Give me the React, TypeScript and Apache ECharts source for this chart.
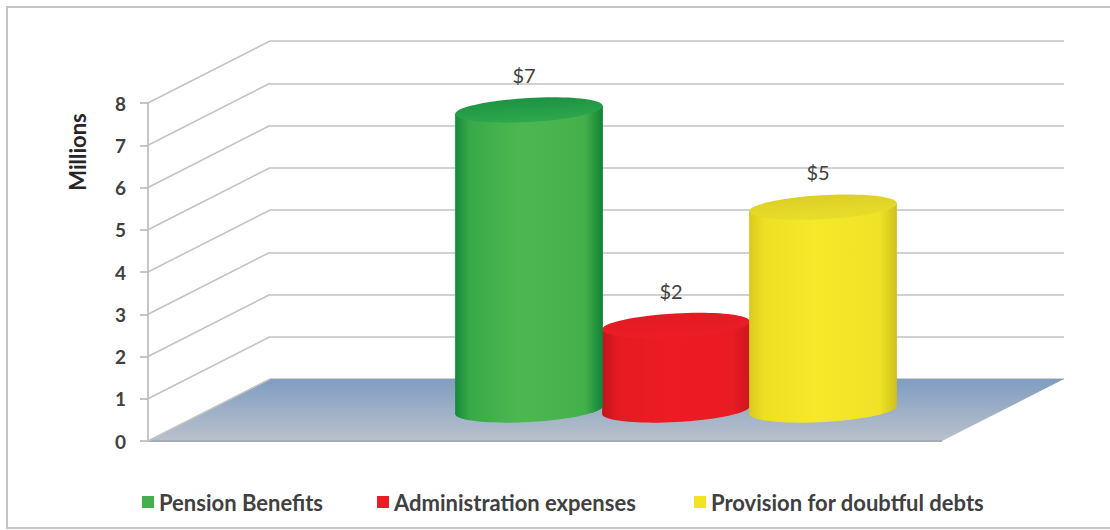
import React, { useEffect, useRef } from 'react';
import * as echarts from 'echarts';

// ---- data ----
const categories = ['Expenses'];
const seriesNames = ['Pension Benefits', 'Administration expenses', 'Provision for doubtful debts'];
const pensionBenefits = [7.1];
const administrationExpenses = [2.0];
const provisionDoubtfulDebts = [4.8];
const yTicks = [0, 1, 2, 3, 4, 5, 6, 7, 8];
const yMin = 0;
const yMax = 8;
const yInterval = 1;

// ---- layout / style constants ----
const FONT = 'Lato, "Liberation Sans", sans-serif';
const DX = 122; // depth projection
const DY = -62;
const RX = 74;
const RY = 12;
const TILT = 0.055;
const SHIFT_F = 70 / 794;
const STEP_F = 147 / 794;
const GRID_COLOR = '#c2c2c2';

const palettes = [
  { e1: '#17893b', l1: '#38aa49', mid: '#4db850', l2: '#44b04b', e2: '#0f8236', t1: '#1c9343', t2: '#2ea84e', legend: '#45b04b' },
  { e1: '#c0141c', l1: '#e41a22', mid: '#ed1c24', l2: '#ea1b23', e2: '#cc161e', t1: '#e11b24', t2: '#ed1d26', legend: '#ec1c24' },
  { e1: '#d8c91c', l1: '#ede024', mid: '#f5e92a', l2: '#f0e327', e2: '#cfc01a', t1: '#ddd026', t2: '#e9dd2a', legend: '#f2e41f' },
];

function bodyGradient(p: any) {
  return new echarts.graphic.LinearGradient(0, 0, 1, 0, [
    { offset: 0, color: p.e1 },
    { offset: 0.1, color: p.l1 },
    { offset: 0.45, color: p.mid },
    { offset: 0.88, color: p.l2 },
    { offset: 1, color: p.e2 },
  ]);
}

function cylinderRenderer(idx: number) {
  const p = palettes[idx];
  return (params: any, api: any) => {
    const cat = api.value(0);
    const v = api.value(1);
    const base = api.coord([cat, 0]);
    const top = api.coord([cat, v]);
    const bw = api.size([1, 0])[0];
    const cx = base[0] + bw * SHIFT_F + (idx - 1) * bw * STEP_F + DX / 2;
    const yb = base[1] + DY / 2;
    const yt = top[1] + DY / 2;
    const c = Math.cos(TILT) * RX;
    const s = Math.sin(TILT) * RX;
    const grad = bodyGradient(p);
    return {
      type: 'group',
      children: [
        {
          type: 'ellipse',
          x: cx,
          y: yb,
          rotation: TILT,
          shape: { cx: 0, cy: 0, rx: RX, ry: RY },
          style: { fill: grad },
        },
        {
          type: 'polygon',
          shape: {
            points: [
              [cx - c, yt + s],
              [cx + c, yt - s],
              [cx + c, yb - s],
              [cx - c, yb + s],
            ],
          },
          style: { fill: grad },
        },
        {
          type: 'ellipse',
          x: cx,
          y: yt,
          rotation: TILT,
          shape: { cx: 0, cy: 0, rx: RX, ry: RY },
          style: {
            fill: new echarts.graphic.LinearGradient(0, 0, 0, 1, [
              { offset: 0, color: p.t1 },
              { offset: 1, color: p.t2 },
            ]),
          },
        },
        {
          type: 'text',
          x: cx - 5,
          y: yt - 35,
          style: {
            text: '$' + Math.round(v),
            fontSize: 20,
            fontFamily: FONT,
            fill: '#404040',
            align: 'center',
            verticalAlign: 'middle',
          },
        },
      ],
    };
  };
}

function frameRenderer(params: any, api: any) {
  const v = api.value(1);
  const pt = api.coord([0, v]);
  const cs = params.coordSys;
  const x0 = cs.x;
  const w = cs.width;
  const y = pt[1];
  const children: any[] = [];
  if (v === yMin) {
    children.push({
      type: 'polygon',
      shape: {
        points: [
          [x0, y],
          [x0 + DX, y + DY],
          [x0 + w + DX, y + DY],
          [x0 + w, y],
        ],
      },
      style: {
        fill: new echarts.graphic.LinearGradient(0, 0, 0, 1, [
          { offset: 0, color: '#7f9dc1' },
          { offset: 1, color: '#bac1cb' },
        ]),
      },
    });
    children.push({
      type: 'line',
      shape: { x1: x0, y1: y, x2: x0 + w, y2: y },
      style: { stroke: '#a4acb8', lineWidth: 2 },
    });
  }
  children.push({
    type: 'line',
    shape: { x1: x0, y1: y, x2: x0 + DX, y2: y + DY },
    style: { stroke: GRID_COLOR, lineWidth: 1.5 },
  });
  return { type: 'group', children };
}

const seriesData = [pensionBenefits, administrationExpenses, provisionDoubtfulDebts];

export default function App() {
  const ref = useRef<HTMLDivElement>(null);
  useEffect(() => {
    if (!ref.current) return;
    const chart = echarts.init(ref.current, undefined, { renderer: 'svg' });
    const legendLefts = [137, 372, 689];
    chart.setOption({
      animation: false,
      backgroundColor: '#ffffff',
      textStyle: { fontFamily: FONT },
      legend: seriesNames.map((n, i) => ({
        data: [n],
        left: legendLefts[i],
        top: 486,
        icon: 'rect',
        itemWidth: 12,
        itemHeight: 12,
        itemGap: 0,
        textStyle: { fontSize: 22, fontWeight: 'bold', color: '#404040', fontFamily: FONT },
      })),
      grid: [
        { left: 148, top: 103, width: 794, height: 338 },
        { left: 148 + DX, top: 103 + DY, width: 794, height: 338 },
      ],
      xAxis: [
        { type: 'category', gridIndex: 0, data: categories, show: false },
        { type: 'category', gridIndex: 1, data: categories, show: false },
      ],
      yAxis: [
        {
          type: 'value',
          gridIndex: 0,
          min: yMin,
          max: yMax,
          interval: yInterval,
          axisLine: { show: true, lineStyle: { color: '#b3b3b3', width: 1.5 } },
          axisTick: { show: true, length: 8, lineStyle: { color: '#b3b3b3', width: 1.5 } },
          axisLabel: { margin: 22, fontSize: 19, fontWeight: 'bold', color: '#404040', fontFamily: FONT },
          splitLine: { show: false },
        },
        {
          type: 'value',
          gridIndex: 1,
          min: yMin,
          max: yMax,
          interval: yInterval,
          axisLine: { show: false },
          axisTick: { show: false },
          axisLabel: { show: false },
          splitLine: { show: true, lineStyle: { color: GRID_COLOR, width: 1.5 } },
        },
      ],
      graphic: [
        {
          type: 'rect',
          shape: { x: 7, y: 7, width: 1120, height: 521 },
          style: { fill: 'none', stroke: '#c4c4c4', lineWidth: 2 },
          z: 0,
        },
        {
          type: 'text',
          x: 77,
          y: 152,
          rotation: Math.PI / 2,
          style: {
            text: 'Millions',
            fontSize: 22,
            fontWeight: 'bold',
            fontFamily: FONT,
            fill: '#262626',
            align: 'center',
            verticalAlign: 'middle',
          },
        },
      ],
      series: [
        {
          type: 'custom',
          name: 'frame',
          xAxisIndex: 0,
          yAxisIndex: 0,
          z: 1,
          silent: true,
          renderItem: frameRenderer,
          data: yTicks.map((t) => [0, t]),
          encode: { x: 0, y: 1 },
        },
        ...seriesNames.map((n, i) => ({
          type: 'custom',
          name: n,
          xAxisIndex: 0,
          yAxisIndex: 0,
          z: i === 1 ? 3 : 4,
          itemStyle: { color: palettes[i].legend },
          renderItem: cylinderRenderer(i),
          data: seriesData[i].map((v, k) => [k, v]),
          encode: { x: 0, y: 1 },
        })),
      ],
    });
    return () => chart.dispose();
  }, []);
  return (
    <div
      ref={ref}
      style={{ position: 'absolute', left: 0, top: 0, width: 1110, height: 530 }}
    />
  );
}
